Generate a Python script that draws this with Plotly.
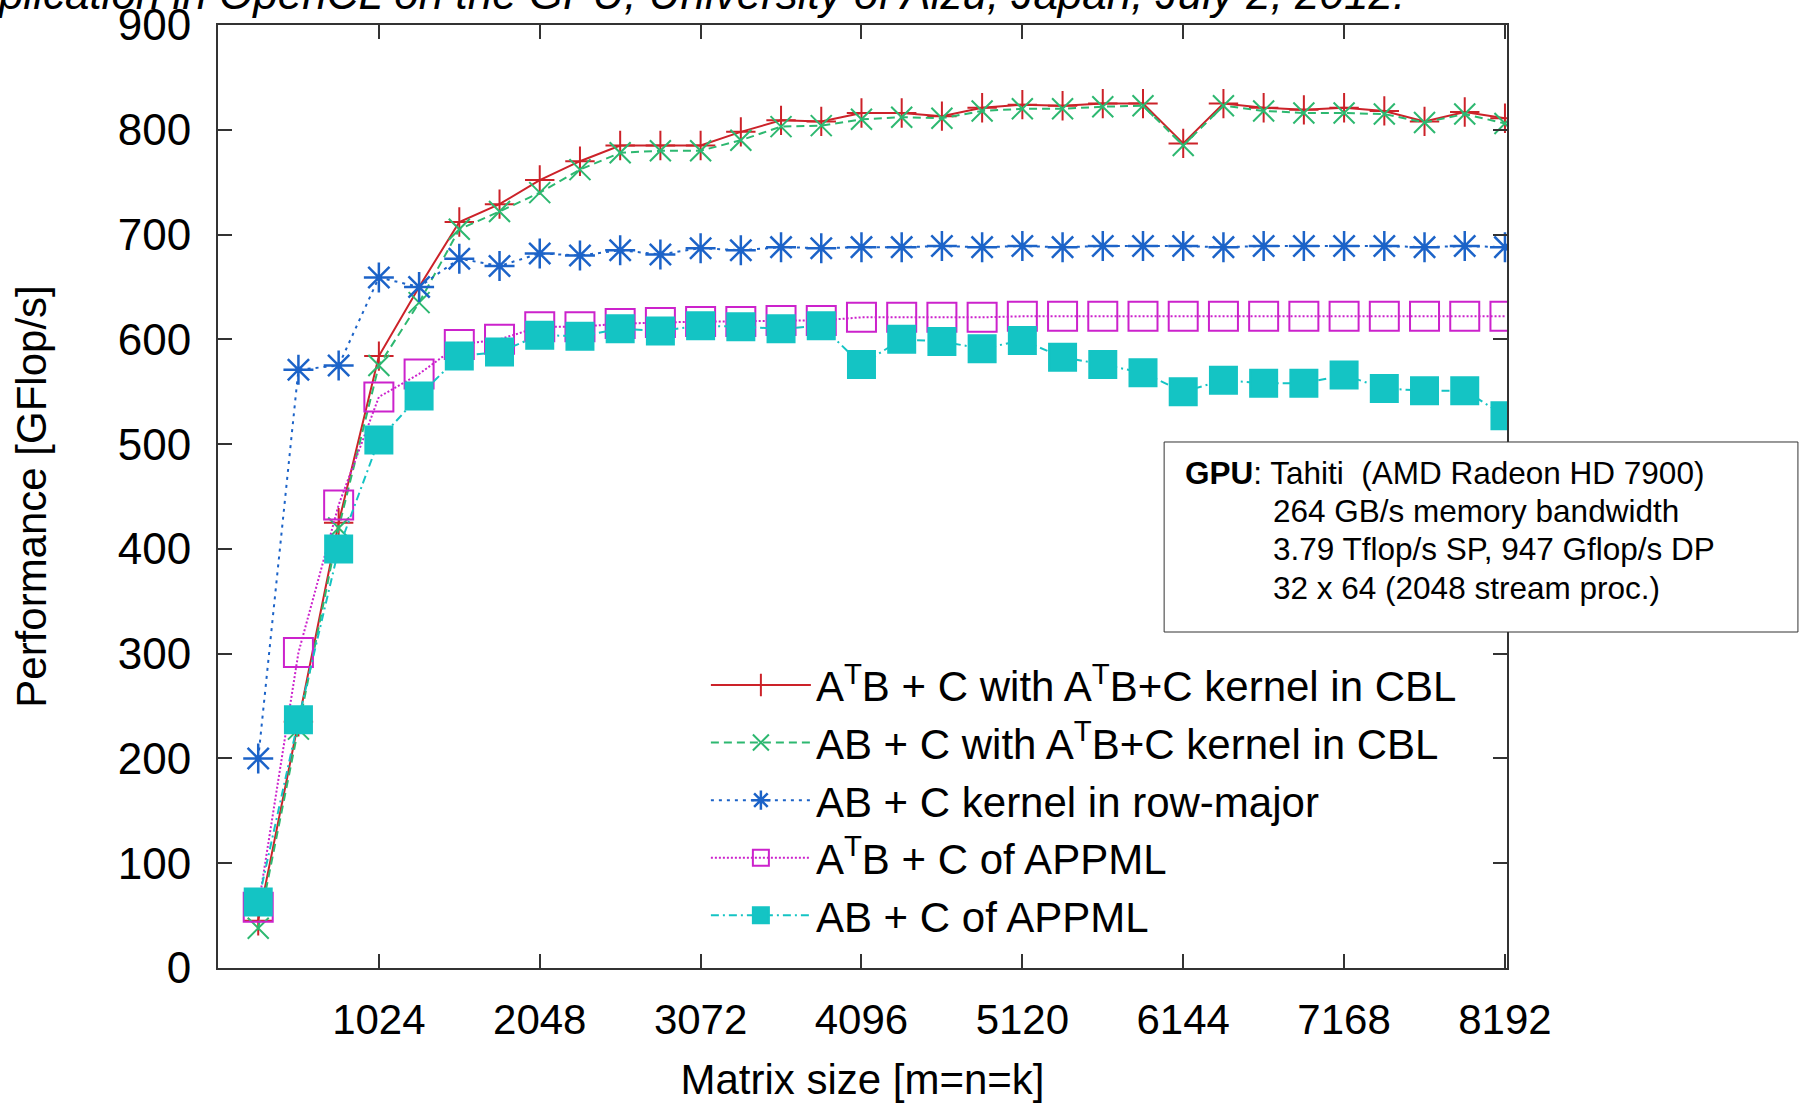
import plotly.graph_objects as go

# ---- data ----
matrix_size = [256, 512, 768, 1024, 1280, 1536, 1792, 2048, 2304, 2560, 2816, 3072,
               3328, 3584, 3840, 4096, 4352, 4608, 4864, 5120, 5376, 5632, 5888, 6144,
               6400, 6656, 6912, 7168, 7424, 7680, 7936, 8192]

atb_cbl = [45, 235, 425, 584, 650, 712, 729, 752, 770, 785, 785, 785,
           798, 809, 808, 816, 816, 813, 821, 824, 823, 825, 825, 787,
           825, 821, 819, 821, 818, 808, 817, 811]

ab_cbl = [38, 228, 420, 575, 635, 705, 722, 740, 762, 778, 780, 780,
          790, 803, 804, 810, 812, 811, 818, 820, 820, 822, 823, 785,
          823, 818, 816, 816, 815, 807, 815, 806]

ab_rowmajor = [200, 571, 575, 659, 650, 677, 670, 682, 680, 685, 681, 687,
               685, 688, 687, 688, 688, 689, 688, 689, 688, 689, 689, 689,
               688, 689, 689, 689, 689, 688, 689, 688]

atb_appml = [58, 301, 442, 545, 567, 595, 600, 612, 612, 615, 616, 617,
             617, 618, 618, 621, 621, 621, 621, 622, 622, 622, 622, 622,
             622, 622, 622, 622, 622, 622, 622, 622]

ab_appml = [63, 237, 400, 504, 546, 584, 588, 604, 603, 610, 608, 613,
            612, 610, 613, 576, 600, 598, 591, 599, 583, 576, 568, 550,
            561, 558, 558, 566, 553, 551, 551, 527]

x_tick_vals = [1024, 2048, 3072, 4096, 5120, 6144, 7168, 8192]
y_tick_vals = [0, 100, 200, 300, 400, 500, 600, 700, 800, 900]

series_names = [
    "A<sup>T</sup>B + C with A<sup>T</sup>B+C kernel in CBL",
    "AB + C with A<sup>T</sup>B+C kernel in CBL",
    "AB + C kernel in row-major",
    "A<sup>T</sup>B + C of APPML",
    "AB + C of APPML",
]

gpu_lines = [
    "<b>GPU</b>: Tahiti&nbsp; (AMD Radeon HD 7900)",
    "264 GB/s memory bandwidth",
    "3.79 Tflop/s SP, 947 Gflop/s DP",
    "32 x 64 (2048 stream proc.)",
]

FONT = "Liberation Sans, Arial, sans-serif"

styles = [
    dict(color="#cc2229", dash="solid", symbol="cross-thin-open", size=21, lw=2),
    dict(color="#2db870", dash="8px,5px", symbol="x-thin-open", size=21, lw=2),
    dict(color="#1c63c8", dash="3px,5px", symbol="asterisk-open", size=25, lw=2.5),
    dict(color="#cc22cc", dash="2px,2px", symbol="square-open", size=29, lw=2),
    dict(color="#14c4c4", dash="8px,4px,2px,4px", symbol="square", size=27, lw=2),
]

fig = go.Figure()
for name, ys, st in zip(series_names, [atb_cbl, ab_cbl, ab_rowmajor, atb_appml, ab_appml], styles):
    fig.add_trace(go.Scatter(
        x=matrix_size, y=ys, name=name, mode="lines+markers",
        line=dict(color=st["color"], width=2, dash=st["dash"]),
        marker=dict(symbol=st["symbol"], size=st["size"], color=st["color"],
                    line=dict(color=st["color"], width=st["lw"])),
    ))

fig.update_layout(
    width=1801, height=1104,
    margin=dict(l=218, r=294, t=25, b=136, autoexpand=False),
    paper_bgcolor="white", plot_bgcolor="white",
    font=dict(family=FONT, color="black"),
    showlegend=True,
    legend=dict(
        x=0.965, y=0.02, xanchor="right", yanchor="bottom",
        bgcolor="rgba(0,0,0,0)", borderwidth=0,
        font=dict(size=42, family=FONT, color="black"),
        itemwidth=100,
    ),
)

fig.update_xaxes(
    range=[0, 8205], tickmode="array", tickvals=x_tick_vals,
    ticktext=[str(v) for v in x_tick_vals],
    ticks="inside", ticklen=14, tickwidth=1.5, tickcolor="#333",
    showline=True, linewidth=2, linecolor="#333", mirror="ticks",
    showgrid=False, zeroline=False, automargin=False,
    tickfont=dict(size=42, family=FONT, color="black"),
    ticklabelstandoff=14,
    title=dict(text="Matrix size [m=n=k]", font=dict(size=42, family=FONT, color="black"),
               standoff=22),
)
fig.update_yaxes(
    range=[0, 900], tickmode="array", tickvals=y_tick_vals,
    ticks="inside", ticklen=14, tickwidth=1.5, tickcolor="#333",
    showline=True, linewidth=2, linecolor="#333", mirror="ticks",
    showgrid=False, zeroline=False, automargin=False,
    tickfont=dict(size=44, family=FONT, color="black"),
    ticklabelstandoff=16,
    title=dict(text="Performance [GFlop/s]", font=dict(size=42, family=FONT, color="black"),
               standoff=58),
)

# info box
fig.add_shape(type="rect", xref="paper", yref="paper",
              x0=0.734, x1=1.2257, y0=0.3563, y1=0.5578,
              line=dict(color="#333", width=1), fillcolor="white", layer="above")

gpu_x = [0.7486, 0.8169, 0.8169, 0.8169]
gpu_y = [0.5249, 0.4846, 0.4443, 0.4030]
for txt, gx, gy in zip(gpu_lines, gpu_x, gpu_y):
    fig.add_annotation(text=txt, xref="paper", yref="paper", x=gx, y=gy,
                       xanchor="left", yanchor="middle", showarrow=False,
                       font=dict(size=31.5, family=FONT, color="black"))

# cropped slide subtitle at the very top
fig.add_annotation(
    text="<i>Multiplication in OpenCL on the GPU, University of Aizu, Japan, July 2, 2012.</i>",
    xref="paper", yref="paper", x=(1407 - 218) / 1289, y=1.0053,
    xanchor="right", yanchor="bottom", showarrow=False,
    font=dict(size=44, family=FONT, color="black"))

fig.write_html("out.html")
